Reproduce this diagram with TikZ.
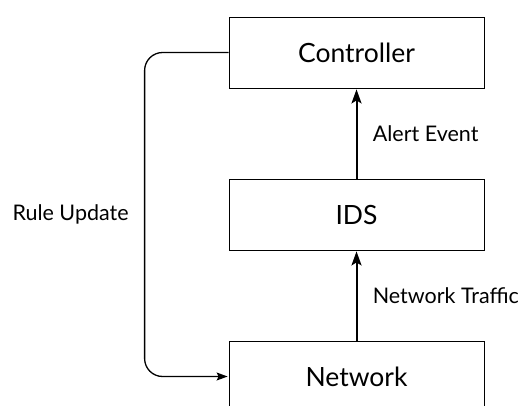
\documentclass[tikz,border=0pt]{standalone}
\usepackage{fontspec}
\setmainfont{Lato}
\usetikzlibrary{positioning,arrows.meta}

\begin{document}
\begin{tikzpicture}[->,>={Stealth[length=14pt,width=10pt,inset=3pt]},shorten >=1pt,auto,node distance=162pt,thick,
    box node/.style={rectangle,draw,line width=0.8pt,minimum width=255pt,minimum height=71pt,font=\fontsize{26.5}{30}\selectfont},
    tag node/.style={font=\fontsize{21.5}{24}\selectfont}]

            \useasboundingbox (0,0) rectangle (518pt,-405pt);

            \node[box node] (ctrl) at (356.5pt,-52.5pt) {Controller};

            \node[box node] (ids) [below of=ctrl] {IDS};

            \node[box node] (net) [below of=ids] {Network};

            \path[line width=2pt, every node/.style={tag node}]
                (net) edge node[right=12pt] {Network Traffic} (ids)
                (ids) edge node[right=12pt] {Alert Event} (ctrl)
                ;

            \draw[line width=1.3pt, >={Stealth[length=11pt,width=8pt,inset=2pt]}, rounded corners=18pt] (ctrl.west) -- ++(-84pt,0)
                |- node[tag node, pos=0.25, left=12pt] {Rule Update} (net.west);
        \end{tikzpicture}
\end{document}
